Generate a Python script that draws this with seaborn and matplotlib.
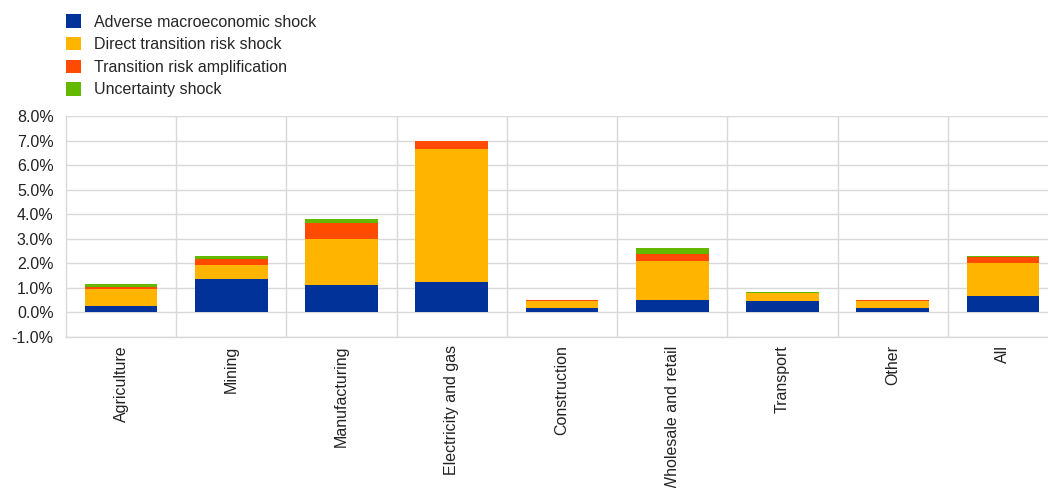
import pandas as pd
import numpy as np
import matplotlib
matplotlib.use('Agg')
import matplotlib.pyplot as plt
from matplotlib.patches import Patch
import seaborn as sns

# data (in %)
sectors = ['Agriculture', 'Mining', 'Manufacturing', 'Electricity and gas',
           'Construction', 'Wholesale and retail', 'Transport', 'Other', 'All']
macro       = [0.26, 1.35, 1.10, 1.25, 0.20, 0.49, 0.45, 0.18, 0.65]
direct      = [0.68, 0.57, 1.88, 5.42, 0.26, 1.62, 0.33, 0.28, 1.38]
amplif      = [0.11, 0.24, 0.67, 0.31, 0.04, 0.27, 0.02, 0.04, 0.21]
uncertainty = [0.09, 0.14, 0.16, 0.00, 0.00, 0.23, 0.04, 0.00, 0.07]

series_names = ['Adverse macroeconomic shock', 'Direct transition risk shock',
                'Transition risk amplification', 'Uncertainty shock']
series_vals = [macro, direct, amplif, uncertainty]
colors = ['#003299', '#FFB400', '#FF4B00', '#65B800']

sns.set_style('white')
plt.rcParams['font.family'] = ['Liberation Sans', 'DejaVu Sans']
plt.rcParams['font.size'] = 11.5

fig = plt.figure(figsize=(10.48, 4.88), dpi=100)
# axes runs a bit past the right edge, like the original crop
ax = fig.add_axes([66 / 1048, 1 - 337 / 488, 992 / 1048, 221 / 488])

bottom = np.zeros(len(sectors))
for name, vals, c in zip(series_names, series_vals, colors):
    df = pd.DataFrame({'sector': sectors, 'value': vals})
    sns.barplot(data=df, x='sector', y='value', color=c, width=0.66,
                bottom=bottom, ax=ax, saturation=1, linewidth=0, zorder=3)
    bottom = bottom + np.array(vals)

ax.set_xlim(-0.5, len(sectors) - 0.5)
ax.set_ylim(-1, 8)
ax.set_yticks(np.arange(-1, 9, 1))
ax.set_yticklabels([f'{v:.1f}%' for v in np.arange(-1, 9, 1)])
ax.set_xlabel('')
ax.set_ylabel('')

# gridlines: horizontal at each tick, vertical between categories
ax.set_xticks(np.arange(0.5, len(sectors) - 0.5, 1), minor=True)
ax.grid(True, axis='y', which='major', color='#d9d9d9', linewidth=1, zorder=0)
ax.grid(True, axis='x', which='minor', color='#d9d9d9', linewidth=1, zorder=0)
ax.tick_params(axis='both', which='both', length=0)
ax.tick_params(axis='y', pad=9, labelcolor='#222222')
ax.tick_params(axis='x', pad=6, labelcolor='#222222')
plt.setp(ax.get_xticklabels(), rotation=90, va='top', ha='center')

for s in ['top', 'right']:
    ax.spines[s].set_visible(False)
for s in ['left', 'bottom']:
    ax.spines[s].set_color('#d9d9d9')
    ax.spines[s].set_linewidth(1)

handles = [Patch(facecolor=c, edgecolor='none', label=n)
           for n, c in zip(series_names, colors)]
fig.legend(handles=handles, loc='upper left', bbox_to_anchor=(52 / 1048, 1 - 0 / 488),
           frameon=False, handlelength=0.9, handleheight=0.9, handletextpad=0.85,
           labelspacing=0.47, fontsize=11.5)

fig.savefig('out.png', dpi=100)
